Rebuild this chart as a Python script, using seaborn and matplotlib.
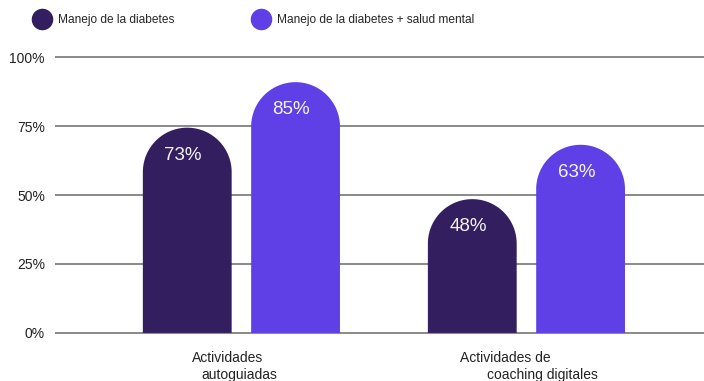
import numpy as np
import pandas as pd
import matplotlib
matplotlib.use("Agg")
import matplotlib.pyplot as plt
import matplotlib.transforms as mtrans
from matplotlib.patches import Polygon
from matplotlib.lines import Line2D
import seaborn as sns

# Datos
categorias = ["Actividades autoguiadas", "Actividades de coaching digitales"]
series = ["Manejo de la diabetes", "Manejo de la diabetes + salud mental"]
etiquetas = [[73, 48], [85, 63]]        # texto de cada barra, por serie
alturas = [[74.4, 48.5], [90.9, 68.2]]  # altura dibujada en la imagen, por serie
lineas_x = [("Actividades", "autoguiadas"), ("Actividades de", "coaching digitales")]
yticks = [0, 25, 50, 75, 100]
colores = ["#331e5f", "#5e40e6"]

df = pd.DataFrame({
    "categoria": categorias * 2,
    "serie": [series[0]] * 2 + [series[1]] * 2,
    "altura": alturas[0] + alturas[1],
})

sns.set_style("white")
plt.rcParams["font.family"] = ["Liberation Sans", "DejaVu Sans"]

fig = plt.figure(figsize=(7.04, 3.81), dpi=100)
ax = fig.add_axes([55 / 704, 1 - 335.7 / 381, 649 / 704, (335.7 - 54.3) / 381])

sns.barplot(data=df, x="categoria", y="altura", hue="serie", hue_order=series,
            palette=colores, saturation=1, width=0.76, gap=0.18, ax=ax, legend=False)

ax.set_xlim(-0.654, 1.623)
ax.set_ylim(-1, 101)

# barras con la parte superior redondeada
px_x = ax.transData.transform([[1, 0]])[0][0] - ax.transData.transform([[0, 0]])[0][0]
px_y = ax.transData.transform([[0, 1]])[0][1] - ax.transData.transform([[0, 0]])[0][1]
t = np.linspace(np.pi, 0, 80)
for cont, col, labs in zip(ax.containers, colores, etiquetas):
    for bar, lab in zip(cont, labs):
        x, w, h = bar.get_x(), bar.get_width(), bar.get_height()
        rx = w / 2
        ry = rx * px_x / px_y
        cx = x + rx
        top = np.column_stack([cx + rx * np.cos(t), h - ry + ry * np.sin(t)])
        pts = np.vstack([[x, 0], top, [x + w, 0]])
        bar.set_visible(False)
        ax.add_patch(Polygon(pts, closed=True, facecolor=col, edgecolor="none", zorder=2))
        ax.annotate(f"{lab}%", (cx, h), xytext=(-3, -19.8), textcoords="offset points",
                    ha="center", va="center", color="#f4f4f4", fontsize=13.5, zorder=3)

ax.set_yticks(yticks)
ax.set_yticklabels([f"{v}%" for v in yticks])
ax.yaxis.grid(True, color="#6a6a6a", lw=1.1)
ax.set_axisbelow(True)
for s in ax.spines.values():
    s.set_visible(False)
ax.tick_params(length=0, pad=7.2, labelsize=10, labelcolor="#222222")
ax.set_xticks([0, 1])
ax.set_xticklabels(["", ""])
ax.set_xlabel("")
ax.set_ylabel("")

# etiquetas del eje x en dos lineas
tr = mtrans.blended_transform_factory(ax.transData, fig.transFigure)
off1 = [-0.174, -0.233]
off2 = [-0.139, -0.139]
for i, (l1, l2) in enumerate(lineas_x):
    ax.text(i + off1[i], 1 - 358 / 381, l1, transform=tr, ha="left", va="center",
            fontsize=10, color="#222222")
    ax.text(i + off2[i], 1 - 375 / 381, l2, transform=tr, ha="left", va="center",
            fontsize=10, color="#222222")

handles = [Line2D([], [], marker="o", ls="", markersize=14.5, color=c) for c in colores]
fig.legend(handles, series, loc="center left", bbox_to_anchor=(30 / 704, 1 - 20 / 381),
           bbox_transform=fig.transFigure, ncol=2, frameon=False, fontsize=8.6,
           handlelength=2, handletextpad=0.33, columnspacing=6.25,
           borderpad=0, borderaxespad=0)

fig.savefig("out.png", dpi=100)
